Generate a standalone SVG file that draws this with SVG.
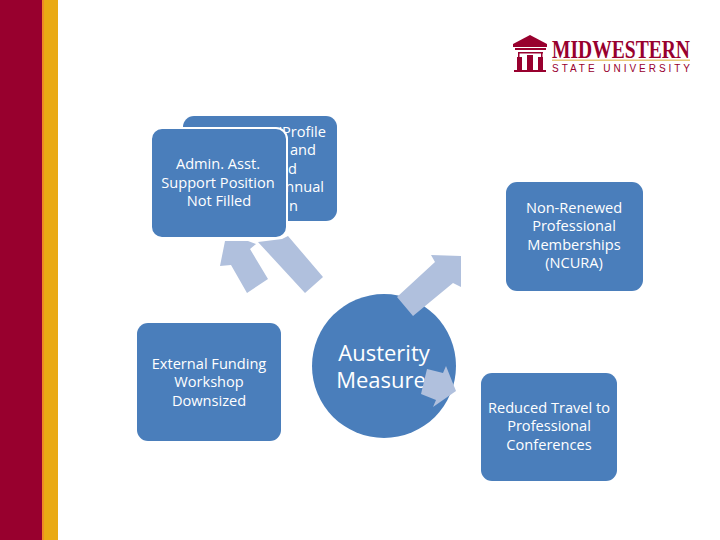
<svg xmlns="http://www.w3.org/2000/svg" width="720" height="540" viewBox="0 0 720 540">
<style>
.b{fill:#4a7ebb}
.w{stroke:#fff;stroke-width:2}
.a{fill:#b0c0dd}
.t{font-family:"Open Sans","Noto Sans",sans-serif;font-size:14.6px;font-weight:500;fill:#fff;text-anchor:middle}
.e{text-anchor:end}
.c{font-family:"Open Sans","Noto Sans",sans-serif;font-size:22px;fill:#fff;text-anchor:middle}
.r{fill:#98002e}
</style>
<rect width="720" height="540" fill="#fff"/>
<rect x="0" y="0" width="43" height="540" fill="#98002e"/>
<rect x="43" y="0" width="15" height="540" fill="#eaaa14"/>
<rect x="42" y="0" width="2" height="540" fill="#f08a24"/>
<g id="logo">
<path class="r" d="M513 44 L530 35 L547 44 L547 47 L513 47Z"/>
<rect class="r" x="515" y="48" width="31" height="2"/>
<rect class="r" x="518" y="52" width="25" height="1.5"/>
<rect class="r" x="518" y="52" width="1.5" height="6"/><rect class="r" x="541" y="52" width="1.5" height="6"/>
<rect class="r" x="517" y="57" width="5" height="13"/>
<rect class="r" x="527" y="55" width="6" height="15"/>
<rect class="r" x="538" y="57" width="5" height="13"/>
<rect class="r" x="514" y="70" width="32" height="2"/>
<text x="552" y="58" font-family="Liberation Serif,serif" font-weight="700" font-size="25" fill="#98002e" textLength="138" lengthAdjust="spacingAndGlyphs">MIDWESTERN</text>
<rect x="552" y="59.500" width="138" height="1.500" fill="#e8c878"/>
<text x="552" y="72" font-family="Liberation Sans,sans-serif" font-size="10" fill="#98002e" textLength="138">STATE UNIVERSITY</text>
</g>
<g id="connectors">
<path class="a" d="M220 266 L225 241 L248 241 L256 244 L250 249 L268 279 L247 293 L231 265 Z"/>
<path class="a" d="M258 242 L282 239 L288 236 L323 277 L305 293 Z"/>
</g>
<g id="n-back"><rect class="b" x="183" y="116" width="154" height="105" rx="11"/>
<text class="t e"><tspan x="326" y="137">'Profile</tspan><tspan x="316" y="155">and</tspan><tspan x="297" y="174">d</tspan><tspan x="324" y="192">nnual</tspan><tspan x="298" y="211">n</tspan></text></g>
<g id="n-admin"><rect class="b w" x="151" y="128" width="136" height="110" rx="11"/>
<text class="t"><tspan x="218" y="169">Admin. Asst.</tspan><tspan x="218" y="188">Support Position</tspan><tspan x="219" y="206">Not Filled</tspan></text></g>
<g id="n-ncura"><rect class="b" x="506" y="182" width="137" height="109" rx="11"/>
<text class="t"><tspan x="574" y="213">Non-Renewed</tspan><tspan x="574" y="231">Professional</tspan><tspan x="574" y="250">Memberships</tspan><tspan x="574" y="268">(NCURA)</tspan></text></g>
<g id="n-funding"><rect class="b" x="137" y="323" width="144" height="118" rx="11"/>
<text class="t"><tspan x="209" y="369">External Funding</tspan><tspan x="209" y="387">Workshop</tspan><tspan x="209" y="406">Downsized</tspan></text></g>
<g id="n-center"><circle class="b" cx="384" cy="366" r="72"/>
<text class="c"><tspan x="384" y="361">Austerity</tspan><tspan x="381" y="388">Measure</tspan></text></g>
<g id="n-travel"><rect class="b" x="481" y="373" width="136" height="108" rx="11"/>
<text class="t"><tspan x="549" y="413">Reduced Travel to</tspan><tspan x="549" y="431">Professional</tspan><tspan x="549" y="450">Conferences</tspan></text></g>
<g id="connectors-front">
<path class="a" d="M397 297 L435 262 L431 255 L461 256 L461 287 L453 283 L413 316 Z"/>
<path class="a" d="M427 369 L443 373 L446 366 L456 391 L433 407 L436 400 L421 394 Z"/>
</g>
</svg>
